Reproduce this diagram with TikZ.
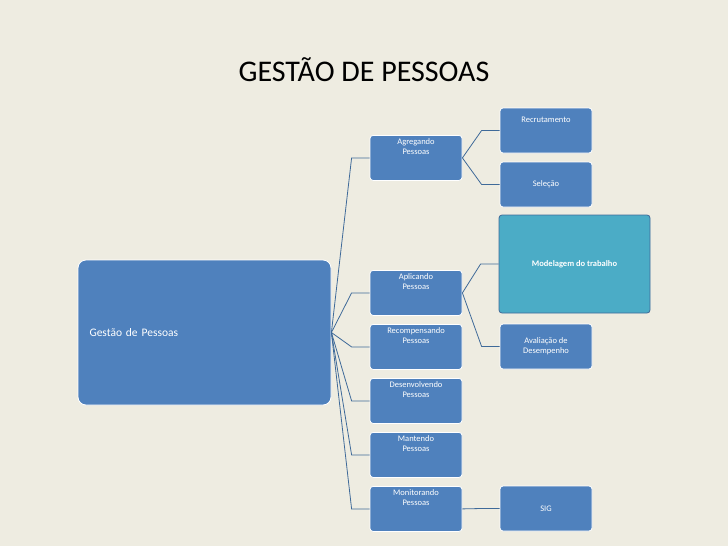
\documentclass[tikz,border=0pt]{standalone}
\usepackage{fontspec}
\setmainfont{Carlito}
\definecolor{bgbeige}{HTML}{EEECE1}
\definecolor{boxblue}{HTML}{4F81BD}
\definecolor{boxcyan}{HTML}{4BACC6}
\definecolor{linkblue}{HTML}{3F6A99}
\begin{document}
\begin{tikzpicture}[x=1pt,y=-1pt,
  box/.style = {draw=white, thick, fill=boxblue, rounded corners=3pt,
                text=white, align=center, inner sep=0pt,
                minimum width=92pt, minimum height=45pt,
                font=\fontsize{8.5}{10}\selectfont},
  link/.style = {draw=linkblue, thick}
                ]
    \fill[bgbeige] (0,0) rectangle (728,546);
    \useasboundingbox (0,0) rectangle (728,546);
    \node (title) at (364,70) {\fontsize{30}{36}\selectfont GESTÃO DE PESSOAS};
    % root
    \node[box, minimum width=253pt, minimum height=145pt, rounded corners=8pt,
          text width=230pt, align=left, font=\fontsize{11.5}{14}\selectfont]
          (gp) at (204.5,332.5) {Gestão de Pessoas};
    % second level
    \foreach \y/\n/\t in {157.5/ag/Agregando\\Pessoas, 292.5/ap/Aplicando\\Pessoas,
        346.5/re/Recompensando\\Pessoas, 400.5/de/Desenvolvendo\\Pessoas,
        454.5/ma/Mantendo\\Pessoas, 508.5/mo/Monitorando\\Pessoas}
        \node[box, anchor=north, minimum height=45pt] (\n) at (416,\y-22.5) {\t\\[12pt]};
    % third level
    \node[box] (rc) at (546,130.5) {Recrutamento\\[12pt]};
    \node[box] (se) at (546,184.5) {Seleção};
    \node[box, fill=boxcyan, draw=linkblue, minimum width=151pt, minimum height=98pt,
          font=\bfseries\fontsize{8.5}{10}\selectfont] (mt) at (574.5,264) {Modelagem do trabalho};
    \node[box] (av) at (546,346.5) {Avaliação de\\Desempenho};
    \node[box] (sig) at (546,508.5) {SIG};
    % connectors
    \foreach \c in {ag,ap,re,de,ma,mo}
        \draw[link] (gp.east) -- ([xshift=-18pt]\c.west) -- (\c.west);
    \foreach \p/\c in {ag/rc, ag/se, ap/mt, ap/av, mo/sig}
        \draw[link] (\p.east) -- ([xshift=-18pt]\c.west) -- (\c.west);
\end{tikzpicture}
\end{document}
